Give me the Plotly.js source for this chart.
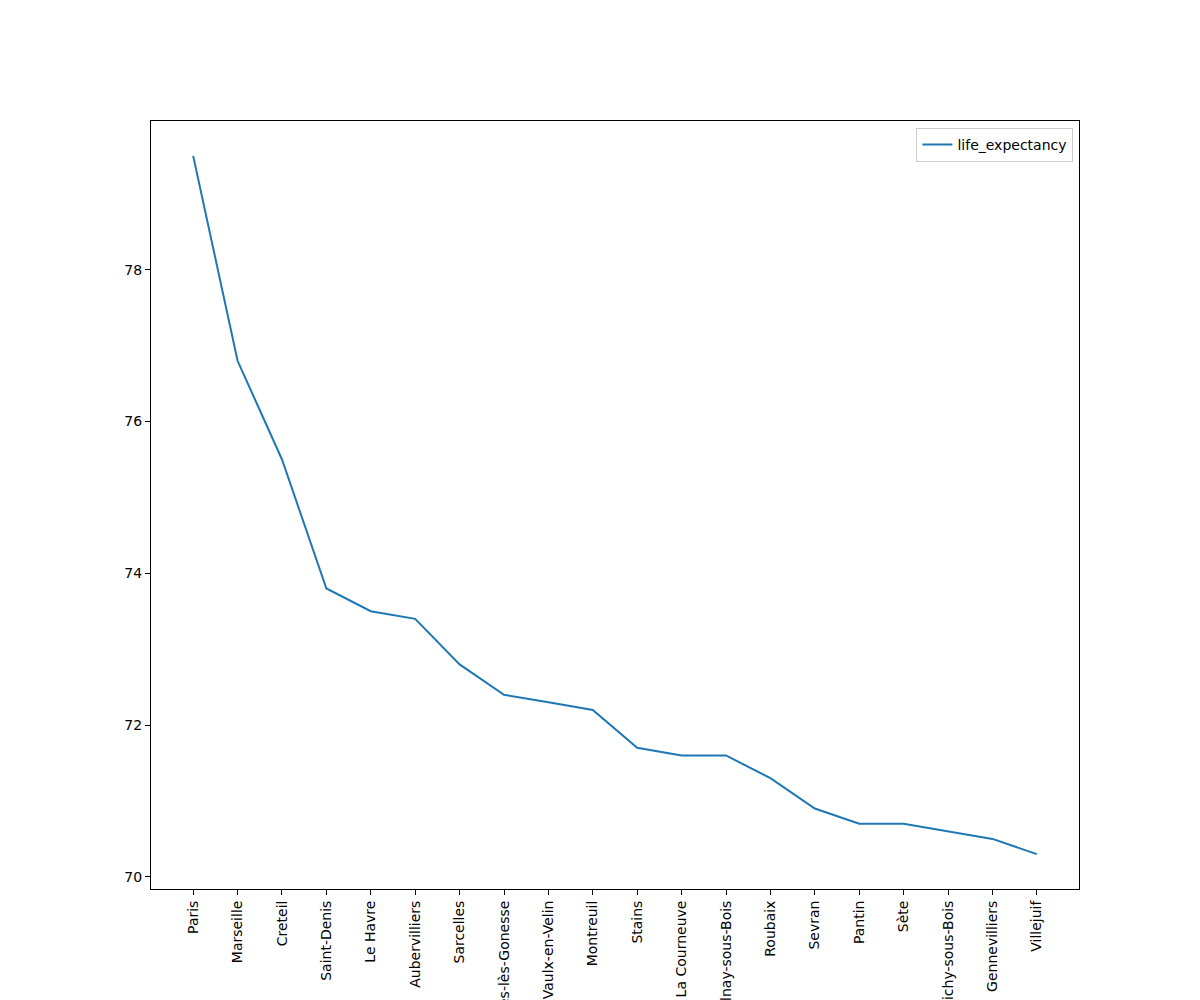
<!DOCTYPE html>
<html>
<head>
<meta charset="utf-8">
<script src="https://cdn.plot.ly/plotly-3.0.1.min.js"></script>
<style>
  body { margin: 0; background: #fff; }
  #chart { width: 1200px; height: 1000px; }
</style>
</head>
<body>
<div id="chart"></div>
<script>
// cities, ordered as in the source chart
const cities = [
    'Paris', 'Marseille', 'Creteil', 'Saint-Denis', 'Le Havre', 'Aubervilliers',
    'Sarcelles', 'Garges-lès-Gonesse', 'Vaulx-en-Velin', 'Montreuil', 'Stains',
    'La Courneuve', 'Aulnay-sous-Bois', 'Roubaix', 'Sevran', 'Pantin', 'Sète',
    'Clichy-sous-Bois', 'Gennevilliers', 'Villejuif'
];
const lifeExpectancy = [
    79.5, 76.8, 75.5, 73.8, 73.5, 73.4,
    72.8, 72.4, 72.3, 72.2, 71.7,
    71.6, 71.6, 71.3, 70.9, 70.7, 70.7,
    70.6, 70.5, 70.3
];
const yTicks = [70, 72, 74, 76, 78];

const font = { family: 'DejaVu Sans, sans-serif', size: 14, color: '#000' };

const trace = {
    x: cities.map((c, i) => i),
    y: lifeExpectancy,
    type: 'scatter',
    mode: 'lines',
    name: 'life_expectancy',
    line: { color: '#1f77b4', width: 2 }
};

const layout = {
    width: 1200, height: 1000,
    margin: { l: 151, r: 121, t: 121, b: 111 },
    paper_bgcolor: '#fff', plot_bgcolor: '#fff',
    font: font,
    showlegend: true,
    legend: {
        x: 0.994, y: 0.991, xanchor: 'right', yanchor: 'top',
        bordercolor: '#cccccc', borderwidth: 1, bgcolor: '#fff',
        itemwidth: 30, font: font
    },
    xaxis: {
        range: [-0.95, 19.95],
        tickmode: 'array',
        tickvals: cities.map((c, i) => i),
        ticktext: cities,
        tickangle: -90,
        ticks: 'outside', ticklen: 5, tickcolor: '#000',
        showgrid: false, zeroline: false,
        showline: true, linecolor: '#000', linewidth: 1, mirror: true,
        automargin: false,
        tickfont: font
    },
    yaxis: {
        range: [69.84, 79.96],
        tickmode: 'array',
        tickvals: yTicks,
        ticktext: yTicks.map(String),
        ticks: 'outside', ticklen: 5, tickcolor: '#000',
        showgrid: false, zeroline: false,
        showline: true, linecolor: '#000', linewidth: 1, mirror: true,
        automargin: false,
        tickfont: font
    }
};

Plotly.newPlot('chart', [trace], layout, { displayModeBar: false, staticPlot: true });
</script>
</body>
</html>
